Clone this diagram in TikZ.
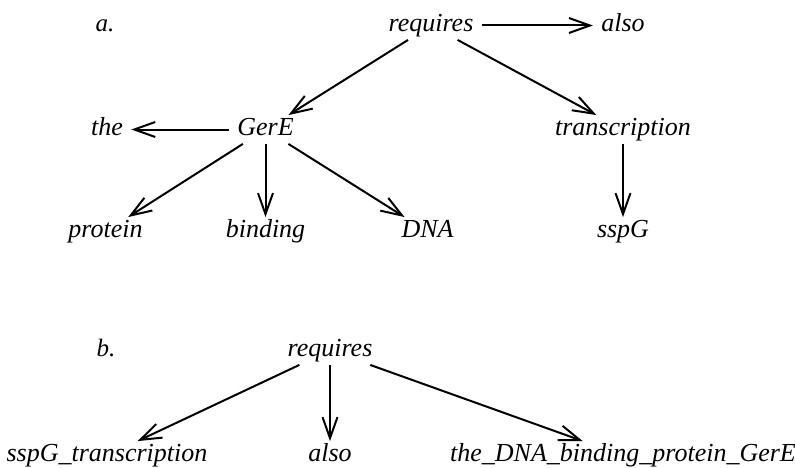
\documentclass[tikz,border=0pt]{standalone}
\usepackage{fontspec}
\setmainfont{Liberation Serif}
\usetikzlibrary{arrows.meta, positioning}
\tikzset{
  dg/word/.style={font=\fontsize{13}{15}\selectfont\itshape,
    text height=1.5ex, text depth=.25ex, inner xsep=4pt, inner ysep=3pt},
  dg/tag/.style={font=\fontsize{12.5}{14}\selectfont\itshape,
    text height=1.5ex, text depth=.25ex, inner sep=0pt},
  dg/arr/.style={-{Straight Barb[length=10.5pt,width=7.5pt]}, line width=1pt}
}

\begin{document}
\begin{tikzpicture}[on grid, x=1pt, y=1pt]
  \useasboundingbox (0,0) rectangle (397.5,233.5);

  % a. dependency tree
  \node[dg/word] (reqA) at (215.5,220.75) {requires};
  \node[dg/tag, left=163pt of reqA] (tagA) {a.};
  \node[dg/word, right=96pt of reqA] (alsoA) {also};
  \node[dg/word, below left=52pt and 82.75pt of reqA] (gerA) {GerE};
  \node[dg/word, below=52pt of alsoA] (trans) {transcription};
  \node[dg/word, left=79.25pt of gerA] (the) {the};
  \node[dg/word, below left=51pt and 80pt of gerA] (prot) {protein};
  \node[dg/word, below=51pt of gerA] (bind) {binding};
  \node[dg/word, below right=51pt and 81pt of gerA] (dna) {DNA};
  \node[dg/word, below=51pt of trans] (sspA) {sspG};

  \draw[dg/arr] (reqA) -- (alsoA);
  \draw[dg/arr] (reqA) -- (gerA);
  \draw[dg/arr] (reqA) -- (trans);
  \draw[dg/arr] (gerA) -- (the);
  \draw[dg/arr] (gerA) -- (prot);
  \draw[dg/arr] (gerA) -- (bind);
  \draw[dg/arr] (gerA) -- (dna);
  \draw[dg/arr] (trans) -- (sspA);

  % b. collapsed tree
  \node[dg/word] (reqB) at (165,58.25) {requires};
  \node[dg/tag, left=112pt of reqB] (tagB) {b.};
  \node[dg/word, below left=52.5pt and 111.5pt of reqB] (sspB) {sspG\_transcription};
  \node[dg/word, below=52.5pt of reqB] (alsoB) {also};
  \node[dg/word, below right=52.5pt and 146.5pt of reqB] (gerB)
    {the\_DNA\_binding\_protein\_GerE};

  \draw[dg/arr] (reqB) -- (sspB);
  \draw[dg/arr] (reqB) -- (alsoB);
  \draw[dg/arr] (reqB) -- (gerB);
\end{tikzpicture}
\end{document}
